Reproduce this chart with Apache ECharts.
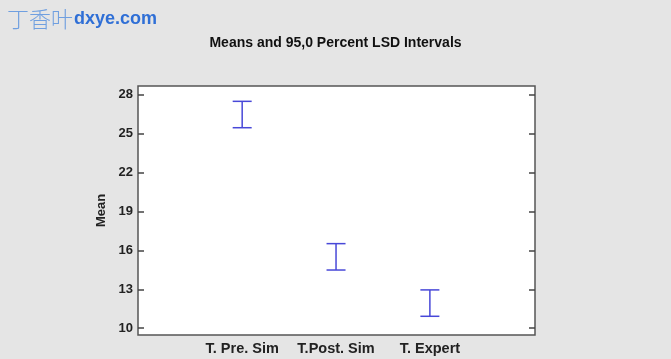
<!DOCTYPE html>
<html><head><meta charset="utf-8">
<script src="https://cdn.jsdelivr.net/npm/echarts@6/dist/echarts.min.js"></script>
<style>html,body{margin:0;padding:0;background:#e5e5e5}#c{width:671px;height:359px}</style>
</head><body><div id="c"></div>
<script>
var categories = ['T. Pre. Sim', 'T.Post. Sim', 'T. Expert'];
var lowerLimits = [25.43, 14.48, 10.92];
var upperLimits = [27.46, 16.51, 12.95];
var yTicks = [10, 13, 16, 19, 22, 25, 28];

var chart = echarts.init(document.getElementById('c'));
var data = categories.map(function (c, i) { return [i + 1, lowerLimits[i], upperLimits[i]]; });
var xPos = categories.map(function (c, i) { return i + 1; });
function font(sz) { return { fontFamily: '"Liberation Sans", Arial, sans-serif', fontWeight: 'bold', fontSize: sz, color: '#222' }; }

chart.setOption({
  backgroundColor: '#e5e5e5',
  animation: false,
  title: {
    text: 'Means and 95,0 Percent LSD Intervals',
    left: 'center', top: 31,
    textStyle: { fontFamily: '"Liberation Sans", Arial, sans-serif', fontWeight: 'bold', fontSize: 14, color: '#111' }
  },
  graphic: [
    { type: 'text', left: 7, top: 8, style: { text: '丁香叶', font: '300 22px "Noto Sans CJK SC"', fill: '#6f9fe0' } },
    { type: 'text', left: 74, top: 10, style: { text: 'dxye.com', font: 'bold 18px "Liberation Sans", Arial', fill: '#2f6fd6' } }
  ],
  grid: { left: 138, right: 136, top: 86, bottom: 24, show: true, backgroundColor: '#fff', borderColor: '#555', borderWidth: 1.5 },
  xAxis: {
    type: 'value', min: -0.11, max: 4.12,
    axisLine: { show: false, onZero: false }, splitLine: { show: false }, axisTick: { show: false },
    axisLabel: Object.assign({ customValues: xPos, margin: 6, formatter: function (v) { return categories[Math.round(v) - 1] || ''; } }, font(14.5))
  },
  yAxis: [{
    type: 'value', min: 9.48, max: 28.64,
    name: 'Mean', nameLocation: 'middle', nameGap: 28, nameRotate: 90,
    nameTextStyle: font(13),
    axisLine: { show: false, onZero: false }, splitLine: { show: false },
    axisTick: { show: true, inside: true, length: 6, customValues: yTicks, lineStyle: { color: '#444', width: 1.5 } },
    axisLabel: Object.assign({ customValues: yTicks, margin: 5 }, font(13))
  }, {
    type: 'value', min: 9.48, max: 28.64, position: 'right',
    axisLine: { show: false, onZero: false }, splitLine: { show: false },
    axisTick: { show: true, inside: true, length: 6, customValues: yTicks, lineStyle: { color: '#444', width: 1.5 } },
    axisLabel: { show: false }
  }],
  series: [{
    type: 'custom',
    data: data,
    renderItem: function (params, api) {
      var top = api.coord([api.value(0), api.value(2)]);
      var bot = api.coord([api.value(0), api.value(1)]);
      var hw = 9.5;
      var st = { stroke: '#4848d8', lineWidth: 1.5 };
      return { type: 'group', children: [
        { type: 'line', shape: { x1: top[0], y1: top[1], x2: bot[0], y2: bot[1] }, style: st },
        { type: 'line', shape: { x1: top[0] - hw, y1: top[1], x2: top[0] + hw, y2: top[1] }, style: st },
        { type: 'line', shape: { x1: bot[0] - hw, y1: bot[1], x2: bot[0] + hw, y2: bot[1] }, style: st }
      ]};
    }
  }]
});
</script></body></html>
